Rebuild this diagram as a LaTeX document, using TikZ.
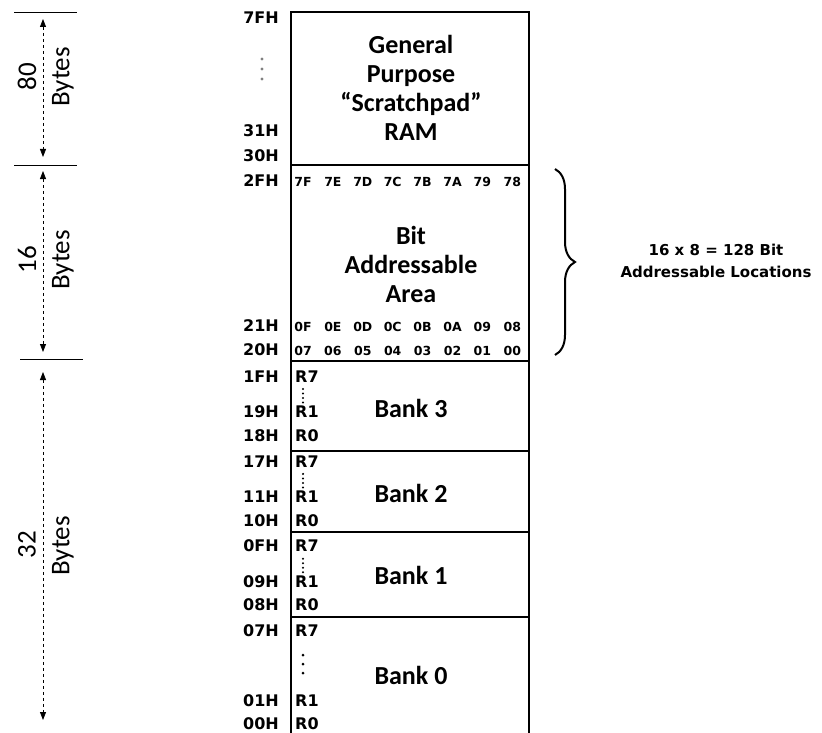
\documentclass[tikz,border=0pt]{standalone}
\usepackage{fontspec}
\setmainfont{Carlito}
\newfontfamily\addrfont{DejaVu Sans}
\usetikzlibrary{arrows.meta,decorations.pathreplacing}
\definecolor{DotGray}{HTML}{808080}
\tikzset{
  memline/.style={line width=2.6pt},
  addr/.style={font=\addrfont\bfseries\fontsize{16}{16}\selectfont, anchor=east, inner sep=0pt},
  reg/.style={font=\addrfont\bfseries\fontsize{16}{16}\selectfont, anchor=west, inner sep=0pt},
  bitno/.style={font=\addrfont\bfseries\fontsize{12.5}{12.5}\selectfont, inner sep=0pt},
  areatext/.style={font=\bfseries\fontsize{26}{29}\selectfont, align=center, inner sep=0pt},
  dimtext/.style={font=\fontsize{27}{27}\selectfont, rotate=90, inner sep=0pt},
  dimarrow/.style={dashed, line width=0.8pt, {Triangle[length=8pt,width=6pt]}-{Triangle[length=8pt,width=6pt]}},
}

\begin{document}
\begin{tikzpicture}[x=1pt,y=-1pt]
  \useasboundingbox (0,0) rectangle (822,733);
  \draw[memline] (291,745) -- (291,12) -- (529,12) -- (529,745);
  \foreach \y in {165,361,451,532,617}{\draw[memline] (291,\y) -- (529,\y);}

  \node[areatext] (ram) at (411,88) {General\\Purpose\\``Scratchpad''\\RAM};
  \node[areatext] (bitarea) at (411,264) {Bit\\Addressable\\Area};
  \foreach \n/\y in {3/408,2/493,1/575,0/675}{\node[areatext] (bank\n) at (411,\y) {Bank \n};}

  \foreach \t [count=\i from 0] in {7F,7E,7D,7C,7B,7A,79,78}{\node[bitno] (bh\t) at (303+29.9*\i,182) {\t};}
  \foreach \t [count=\i from 0] in {0F,0E,0D,0C,0B,0A,09,08}{\node[bitno] (bm\t) at (303+29.9*\i,327) {\t};}
  \foreach \t [count=\i from 0] in {07,06,05,04,03,02,01,00}{\node[bitno] (bl\t) at (303+29.9*\i,351) {\t};}

  \foreach \y/\t in {18/7FH,131/31H,156/30H,181/2FH,326/21H,350/20H,377/1FH,412/19H,436/18H,462/17H,497/11H,521/10H,546/0FH,582/09H,605/08H,631/07H,701/01H,724/00H}
    {\node[addr] (a\t) at (279,\y) {\t};}
  \foreach \y in {59,69,79}{\fill[DotGray] (262,\y) circle (1.6);}

  \foreach \b/\ya/\yb/\yc in {3/377/412/436,2/462/497/521,1/546/582/605,0/631/701/724}{
    \node[reg] (rsev\b) at (295,\ya) {R7};
    \node[reg] (rone\b) at (295,\yb) {R1};
    \node[reg] (rzero\b) at (295,\yc) {R0};
  }
  \foreach \o in {0,3,6}{\foreach \y in {389,393.5,398,402.5}{\fill (303,\y+\o*28.3) circle (1.15);}}
  \foreach \y in {655,664,673}{\fill (303,\y) circle (1.5);}

  \coordinate (bt) at (555,169);
  \coordinate (bb) at (555,355);
  \draw[line width=2pt, decorate, decoration={brace, amplitude=20pt}] (bt) -- (bb);
  \node[font=\addrfont\bfseries\fontsize{15}{22}\selectfont, align=center] (bracelbl) at (716,261) {16 x 8 = 128 Bit\\Addressable Locations};

  \coordinate (l80t) at (14,12);
  \coordinate (l80b) at (14,165);
  \coordinate (l16b) at (20,359);
  \draw (l80t) -- ++(63,0);
  \draw (l80b) -- ++(63,0);
  \draw (l16b) -- ++(63,0);
  \coordinate (ar80t) at (43,19);
  \coordinate (ar80b) at (43,157);
  \coordinate (ar16t) at (43,171);
  \coordinate (ar16b) at (43,352);
  \coordinate (ar32t) at (43,372);
  \coordinate (ar32b) at (43,720);
  \draw[dimarrow] (ar80t) -- (ar80b);
  \draw[dimarrow] (ar16t) -- (ar16b);
  \draw[dimarrow] (ar32t) -- (ar32b);
  \node[dimtext] (n80) at (27,77) {80};
  \node[dimtext] (by80) at (63,77) {Bytes};
  \node[dimtext] (n16) at (27,260) {16};
  \node[dimtext] (by16) at (63,260) {Bytes};
  \node[dimtext] (n32) at (27,545) {32};
  \node[dimtext] (by32) at (63,546) {Bytes};
\end{tikzpicture}
\end{document}
